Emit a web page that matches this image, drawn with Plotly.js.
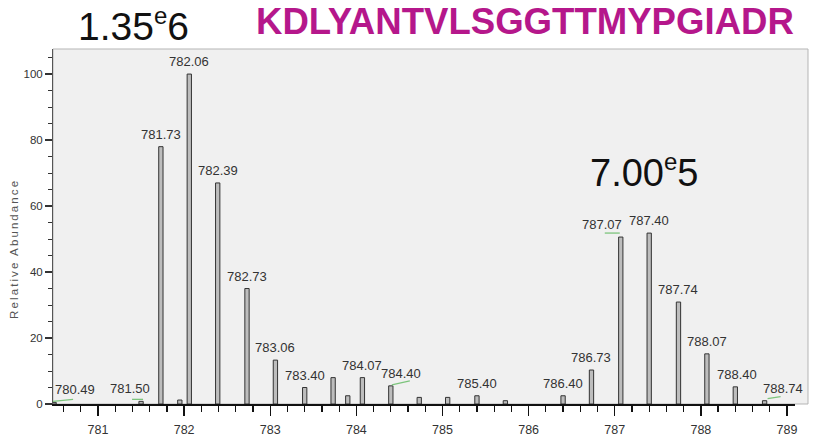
<!DOCTYPE html>
<html><head><meta charset="utf-8">
<script src="https://cdn.plot.ly/plotly-3.0.1.min.js"></script>
<style>
html,body{margin:0;padding:0;background:#fff;}
#chart{width:813px;height:441px;}
g.annotation[data-index="0"] text{letter-spacing:2.1px;}
</style></head><body><div id="chart"></div>
<script>
// m/z of each peak and its relative abundance (%)
const peakMz = [780.49, 781.50, 781.73, 781.95, 782.06, 782.39, 782.73, 783.06, 783.40, 783.73, 783.90, 784.07, 784.40, 784.73, 785.06, 785.40, 785.73, 786.40, 786.73, 787.07, 787.40, 787.74, 788.07, 788.40, 788.74];
const peakHeight = [0.5, 0.8, 78, 1.2, 100, 67, 35, 13.3, 5, 8, 2.5, 8, 5.5, 2, 2, 2.5, 1, 2.5, 10.3, 50.6, 51.8, 30.9, 15.2, 5.2, 1];
const peakLabel = ['780.49', '781.50', '781.73', '', '782.06', '782.39', '782.73', '783.06', '783.40', '', '', '784.07', '784.40', '', '', '785.40', '', '786.40', '786.73', '787.07', '787.40', '787.74', '788.07', '788.40', '788.74'];
const xTickVals = [781, 782, 783, 784, 785, 786, 787, 788, 789];
const yTickVals = [0, 20, 40, 60, 80, 100];
const yTitle = 'Relative Abundance';
const intensityLeft = '1.35<sup><span style="font-size:24px">e</span></sup>6';
const intensityRight = '7.00<sup><span style="font-size:24px">e</span></sup>5';
const peptide = 'KDLYANTVLSGGTTMYPGIADR';
// peaks carrying a green marker under their label
const markedPeaks = ['780.49', '781.50', '784.40', '787.07', '788.74'];

// label horizontal nudges (px), style only
const labelShift = {'780.49': 0, '781.50': -11, '784.40': 10, '787.07': -19, '788.40': 2, '788.74': 18};
// green marker offsets relative to the peak apex (px): [x0, x1, y0, y1]
const markOffset = {'780.49': [-1, 19, 1, 3], '781.50': [-9, 2, 2, 2], '784.40': [1, 19, 1, 5], '787.07': [-16, -1, 4, 4], '788.74': [3, 16, 2, 4]};

const W = 813, H = 441, L = 53, R = 18, T = 49, B = 37;
const pw = W - L - R, ph = H - T - B;
const px = x => (x - L) / pw;
const py = y => (H - B - y) / ph;

// y-axis title first (data-index 0, letter-spaced via CSS)
const annotations = [{
  xref: 'paper', yref: 'paper', x: px(14), y: py(249), xanchor: 'center', yanchor: 'middle',
  text: yTitle, textangle: -90, showarrow: false,
  font: {family: 'Arial, Liberation Sans', size: 11.5, color: '#555'}
}];
const shapes = [{
  type: 'rect', xref: 'paper', yref: 'paper', x0: 0, x1: px(808), y0: 0, y1: 1,
  fillcolor: '#f0f0f0', line: {color: '#b5b5b5', width: 1}, layer: 'below'
}];
peakLabel.forEach((t, i) => {
  if (!t) return;
  const a = {
    x: peakMz[i], y: peakHeight[i], xref: 'x', yref: 'y', text: t, showarrow: false,
    yanchor: 'bottom', yshift: 3, xshift: labelShift[t] || 0, xanchor: 'center',
    font: {family: 'Arial, Liberation Sans', size: 13, color: '#333'}
  };
  if (t === '780.49') { a.xanchor = 'left'; a.xshift = -1; }
  annotations.push(a);
  if (markedPeaks.includes(t)) {
    const o = markOffset[t];
    shapes.push({type: 'line', xref: 'x', yref: 'y', xsizemode: 'pixel', ysizemode: 'pixel',
      xanchor: peakMz[i], yanchor: peakHeight[i], x0: o[0], x1: o[1], y0: o[2], y1: o[3],
      line: {color: '#7cc47c', width: 1.3}});
  }
});
annotations.push({xref: 'paper', yref: 'paper', x: px(76), y: py(25), xanchor: 'left', yanchor: 'middle',
  text: intensityLeft, showarrow: false, font: {family: 'Arial, Liberation Sans', size: 39, color: '#111'}});
annotations.push({xref: 'paper', yref: 'paper', x: px(588), y: py(171), xanchor: 'left', yanchor: 'middle',
  text: intensityRight, showarrow: false, font: {family: 'Arial, Liberation Sans', size: 38, color: '#111'}});
annotations.push({xref: 'paper', yref: 'paper', x: px(254), y: py(21), xanchor: 'left', yanchor: 'middle',
  text: peptide, showarrow: false, font: {family: 'Arial, Liberation Sans', size: 36.6, weight: 700, color: '#b5178b'}});

const data = [{
  type: 'bar', x: peakMz, y: peakHeight, width: 0.05,
  marker: {color: '#bdbdbd', line: {color: '#333', width: 1}},
  hoverinfo: 'x+y'
}];

const layout = {
  width: W, height: H,
  margin: {l: L, r: R, t: T, b: B, pad: 0},
  paper_bgcolor: '#ffffff', plot_bgcolor: 'rgba(0,0,0,0)',
  showlegend: false,
  xaxis: {
    range: [780.4775, 789.093], tickmode: 'array', tickvals: xTickVals, ticktext: xTickVals.map(String),
    ticks: 'outside', ticklen: 10, tickwidth: 1.5, tickcolor: '#111', ticklabelstandoff: 3,
    showline: true, linecolor: '#111', linewidth: 2, showgrid: false, zeroline: false,
    tickfont: {family: 'Arial, Liberation Sans', size: 12.5, color: '#333'},
    minor: {tickmode: 'linear', tick0: 781, dtick: 0.2, ticks: 'outside', ticklen: 6, tickwidth: 1.2, tickcolor: '#111', showgrid: false}
  },
  yaxis: {
    range: [0, 107.6], tickmode: 'array', tickvals: yTickVals,
    ticks: 'outside', ticklen: 7, tickwidth: 1.2, tickcolor: '#333',
    showline: true, linecolor: '#555', linewidth: 1, showgrid: false, zeroline: false,
    tickfont: {family: 'Arial, Liberation Sans', size: 11.5, color: '#333'},
    minor: {tickmode: 'linear', tick0: 0, dtick: 5, ticks: 'outside', ticklen: 4, tickwidth: 1, tickcolor: '#333', showgrid: false}
  },
  shapes: shapes,
  annotations: annotations
};

Plotly.newPlot('chart', data, layout, {displayModeBar: false, staticPlot: true});
</script></body></html>
